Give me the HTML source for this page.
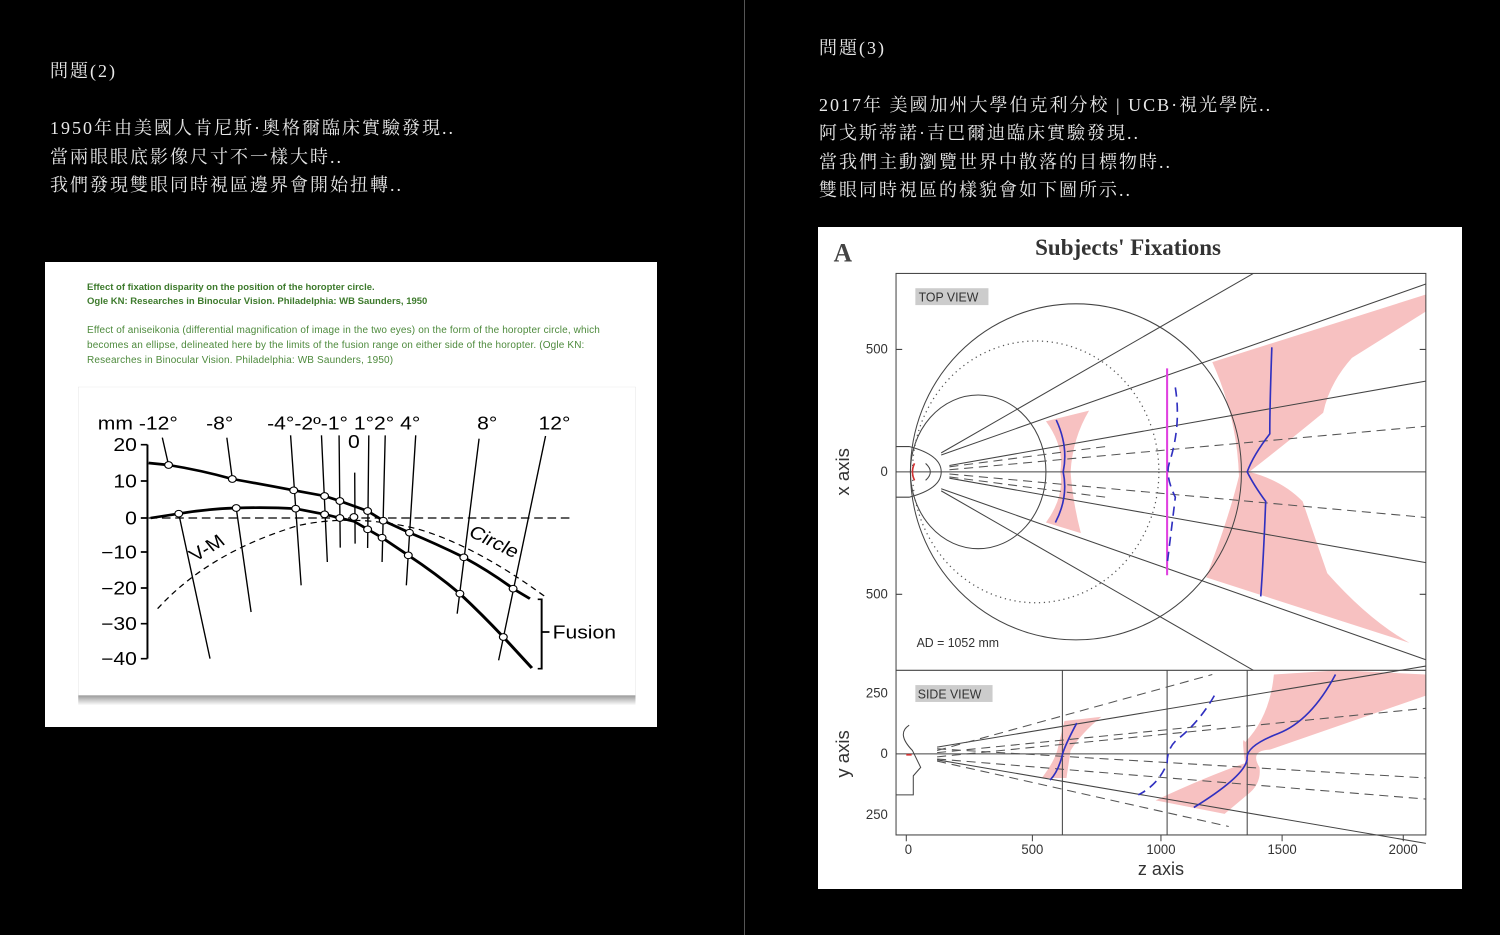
<!DOCTYPE html>
<html><head><meta charset="utf-8"><style>
body{margin:0;width:1500px;height:935px;background:#000;position:relative;overflow:hidden;font-family:"Liberation Serif","Noto Serif CJK SC",serif;}
.t{position:absolute;color:#e8e8e8;font-size:18px;white-space:nowrap;line-height:1;letter-spacing:2px;}
.g{position:absolute;font-family:"Liberation Sans",sans-serif;font-size:10px;white-space:nowrap;color:#4d8a3c;}
</style></head><body>
<div style="position:absolute;left:744px;top:0;width:1px;height:935px;background:#555"></div>
<div class="t" style="left:50px;top:62px">問題(2)</div>
<div class="t" style="left:50px;top:119px">1950年由美國人肯尼斯·奧格爾臨床實驗發現..</div>
<div class="t" style="left:50px;top:148px">當兩眼眼底影像尺寸不一樣大時..</div>
<div class="t" style="left:50px;top:176px">我們發現雙眼同時視區邊界會開始扭轉..</div>
<div class="t" style="left:819px;top:39px">問題(3)</div>
<div class="t" style="left:819px;top:96px">2017年 美國加州大學伯克利分校 | UCB·視光學院..</div>
<div class="t" style="left:819px;top:124px">阿戈斯蒂諾·吉巴爾迪臨床實驗發現..</div>
<div class="t" style="left:819px;top:153px">當我們主動瀏覽世界中散落的目標物時..</div>
<div class="t" style="left:819px;top:181px">雙眼同時視區的樣貌會如下圖所示..</div>

<div style="position:absolute;left:45px;top:262px;width:612px;height:465px;background:#fff"></div>
<div class="g" style="left:87px;top:282px;font-weight:bold;color:#3d7a2c;font-size:9.5px">Effect of fixation disparity on the position of the horopter circle.</div>
<div class="g" style="left:87px;top:296px;font-weight:bold;color:#3d7a2c;font-size:9.5px">Ogle KN: Researches in Binocular Vision. Philadelphia: WB Saunders, 1950</div>
<div class="g" style="left:87px;top:325px;letter-spacing:0.15px">Effect of aniseikonia (differential magnification of image in the two eyes) on the form of the horopter circle, which</div>
<div class="g" style="left:87px;top:340px;letter-spacing:0.15px">becomes an ellipse, delineated here by the limits of the fusion range on either side of the horopter. (Ogle KN:</div>
<div class="g" style="left:87px;top:355px;letter-spacing:0.15px">Researches in Binocular Vision. Philadelphia: WB Saunders, 1950)</div>

<svg style="position:absolute;left:45px;top:262px" width="612" height="465" viewBox="0 0 1565 1395" preserveAspectRatio="none">
<defs><linearGradient id="sh" x1="0" y1="0" x2="0" y2="1"><stop offset="0" stop-color="#888"/><stop offset="1" stop-color="#fff"/></linearGradient></defs>
<rect x="85" y="1295" width="1425" height="35" fill="url(#sh)"/>
<rect x="85" y="375" width="1425" height="925" fill="#fff" stroke="#ddd"/>
<g stroke="#000" fill="none" stroke-width="5">
<path d="M262 548V1190"/>
<path d="M245 548H262M245 657H262M245 768H262M245 870H262M245 978H262M245 1085H262M245 1190H262"/>
<path d="M1260 1012H1270V1220H1260M1270 1110H1290"/>
</g>
<g stroke="#000" fill="none" stroke-width="3.5">
<path d="M300 527L316 609M465 527L479 651M628 520L655 970M707 520L722 900M752 520L755 857M792 632L793 845M828 520L825 858M870 520L862 900M948 520L924 970M1110 530L1054 1055M1280 522L1160 1195M342 755L422 1190M489 738L527 1050"/>
</g>
<path d="M265 768H1350" stroke="#000" stroke-width="4" stroke-dasharray="22 12" fill="none"/>
<path d="M288 1040Q420 870 650 790Q790 755 950 800Q1100 850 1280 1005" stroke="#000" stroke-width="3.5" stroke-dasharray="16 12" fill="none"/>
<g stroke="#000" fill="none" stroke-width="8">
<path d="M265 603L316 609Q400 625 479 651Q560 668 636 685L715 702L754 717L825 747L865 776L932 812Q1000 845 1071 886Q1140 930 1197 980L1240 1010"/>
<path d="M270 768L342 755Q420 740 489 738Q570 735 641 740L715 757L754 768L790 778L825 802L862 827L929 880Q1000 935 1061 995Q1120 1060 1172 1125L1245 1218"/>
</g>
<g stroke="#000" fill="#fff" stroke-width="3">
<circle cx="316" cy="609" r="10"/><circle cx="479" cy="651" r="10"/><circle cx="636" cy="685" r="10"/><circle cx="715" cy="702" r="10"/><circle cx="754" cy="717" r="10"/><circle cx="825" cy="747" r="10"/><circle cx="865" cy="776" r="10"/><circle cx="932" cy="812" r="10"/><circle cx="1071" cy="886" r="10"/><circle cx="1197" cy="980" r="10"/>
<circle cx="342" cy="755" r="10"/><circle cx="489" cy="738" r="10"/><circle cx="641" cy="740" r="10"/><circle cx="715" cy="757" r="10"/><circle cx="754" cy="768" r="10"/><circle cx="790" cy="765" r="10"/><circle cx="825" cy="802" r="10"/><circle cx="862" cy="827" r="10"/><circle cx="929" cy="880" r="10"/><circle cx="1061" cy="995" r="10"/><circle cx="1172" cy="1125" r="10"/>
</g>
<g font-family="Liberation Sans,sans-serif" font-size="54" fill="#000">
<text x="235" y="567" text-anchor="end">20</text><text x="235" y="676" text-anchor="end">10</text><text x="235" y="787" text-anchor="end">0</text><text x="235" y="889" text-anchor="end">−10</text><text x="235" y="997" text-anchor="end">−20</text><text x="235" y="1104" text-anchor="end">−30</text><text x="235" y="1209" text-anchor="end">−40</text>
<text x="135" y="503">mm -12°</text><text x="412" y="503">-8°</text><text x="568" y="503">-4°-2º-1° 1°2° 4°</text><text x="1105" y="503">8°</text><text x="1262" y="503">12°</text><text x="775" y="558">0</text>
<text x="1298" y="1130">Fusion</text>
<text x="1080" y="820" transform="rotate(30 1080 820)">Circle</text>
<text x="385" y="900" transform="rotate(-35 385 900)">V-M</text>
</g>
</svg>

<div style="position:absolute;left:818px;top:227px;width:644px;height:662px;background:#fff"></div>
<svg style="position:absolute;left:818px;top:227px" width="644" height="662" viewBox="0 0 1568 1568" preserveAspectRatio="none">
<text x="38" y="82" font-family="Liberation Serif,serif" font-weight="bold" font-size="62" fill="#444">A</text>
<text x="755" y="66" text-anchor="middle" font-family="Liberation Serif,serif" font-weight="bold" font-size="56" fill="#333">Subjects' Fixations</text>
<rect x="237" y="145" width="178" height="40" fill="#ccc"/><text x="245" y="177" font-family="Liberation Sans,sans-serif" font-size="30" fill="#333">TOP VIEW</text>
<rect x="237" y="1085" width="188" height="40" fill="#ccc"/><text x="243" y="1117" font-family="Liberation Sans,sans-serif" font-size="30" fill="#333">SIDE VIEW</text>
<text x="240" y="995" font-family="Liberation Sans,sans-serif" font-size="30" fill="#333">AD = 1052 mm</text>
<path d="M960 320L1480 160V200L1300 310Q1245 370 1230 440Q1130 520 1050 580Q1130 600 1180 650Q1215 750 1240 820Q1340 930 1440 985L945 830Q1000 690 1025 590Q1020 450 960 320Z" fill="#f7c1c1"/>
<path d="M555 460L660 435Q620 500 615 580Q620 650 640 725L555 700Q600 640 590 580Q600 520 555 460Z" fill="#f7c1c1"/>
<path d="M1110 1060L1270 1050L1480 1060V1110L1100 1238Q1050 1240 1075 1280Q1080 1320 1045 1345L990 1390L822 1358Q950 1300 1040 1270Q1030 1200 1040 1220Q1100 1160 1110 1060Z" fill="#f7c1c1"/>
<path d="M600 1170L690 1160Q640 1200 615 1240L605 1305L545 1305Q580 1260 585 1230Z" fill="#f7c1c1"/>
<g stroke="#444" stroke-width="2.5" fill="none">
<rect x="190" y="110" width="1290" height="1330"/>
<path d="M190 1050H1480M190 580H1480M190 1248H1480M595 1050V1440M850 1050V1440M1045 1050V1440"/>
<ellipse cx="628" cy="580" rx="403" ry="398"/>
<ellipse cx="390" cy="580" rx="165" ry="182"/>
<path d="M300 535L1060 110M300 625L1060 1050M300 540L1480 135M300 620L1480 1025M320 565L1480 365M320 595L1480 795"/>
<path d="M290 1232L1480 1040M290 1262L1480 1460" />
<path d="M222 520Q300 540 300 580Q300 620 222 640M190 520H222M190 640H222M262 560Q285 580 262 600M222 1180Q190 1200 230 1240L250 1280L232 1300L232 1345H190"/>
<path d="M215 1440V1455M522 1440V1455M835 1440V1455M1130 1440V1455M1425 1440V1455M190 290H205M190 870H205M1465 290H1480M1465 870H1480"/>
</g>
<ellipse cx="530" cy="580" rx="300" ry="310" stroke="#555" stroke-width="3" fill="none" stroke-dasharray="3 9"/>
<g stroke="#555" stroke-width="2.5" fill="none" stroke-dasharray="22 14">
<path d="M320 575L1480 472M320 585L1480 688M320 568L700 520M320 592L700 640"/>
<path d="M290 1240L960 1060M290 1255L1480 1140M290 1245L960 1180M290 1260L1480 1355M290 1265L1000 1420M290 1236L1480 1305"/>
</g>
<path d="M850 335V825" stroke="#e040e0" stroke-width="5"/>
<g stroke="#3030c0" stroke-width="4" fill="none">
<path d="M580 457Q610 520 597 580Q610 640 578 700"/>
<path d="M1105 285Q1100 420 1100 490Q1060 540 1045 580Q1060 610 1090 650Q1085 780 1078 875"/>
<path d="M630 1175Q600 1230 595 1250Q585 1290 565 1310"/>
<path d="M1260 1060Q1200 1170 1120 1200Q1040 1230 1045 1260Q1040 1300 915 1375"/>
</g>
<g stroke="#3030c0" stroke-width="4" fill="none" stroke-dasharray="22 14">
<path d="M870 380Q885 470 855 560Q845 590 870 640L850 800"/>
<path d="M965 1110Q930 1170 880 1210Q850 1230 850 1270Q830 1320 780 1345"/>
</g>
<path d="M235 560Q225 580 235 600M215 1250H228" stroke="#d03030" stroke-width="4" fill="none"/>
<g font-family="Liberation Sans,sans-serif" font-size="32" fill="#333">
<text x="170" y="300" text-anchor="end">500</text><text x="170" y="590" text-anchor="end">0</text><text x="170" y="880" text-anchor="end">500</text>
<text x="170" y="1115" text-anchor="end">250</text><text x="170" y="1258" text-anchor="end">0</text><text x="170" y="1402" text-anchor="end">250</text>
<text x="220" y="1485" text-anchor="middle">0</text><text x="522" y="1485" text-anchor="middle">500</text><text x="835" y="1485" text-anchor="middle">1000</text><text x="1130" y="1485" text-anchor="middle">1500</text><text x="1425" y="1485" text-anchor="middle">2000</text>
<text x="835" y="1535" text-anchor="middle" font-size="44">z  axis</text>
<text x="75" y="580" text-anchor="middle" font-size="44" transform="rotate(-90 75 580)">x  axis</text>
<text x="75" y="1248" text-anchor="middle" font-size="44" transform="rotate(-90 75 1248)">y  axis</text>
</g>
</svg>
</body></html>
